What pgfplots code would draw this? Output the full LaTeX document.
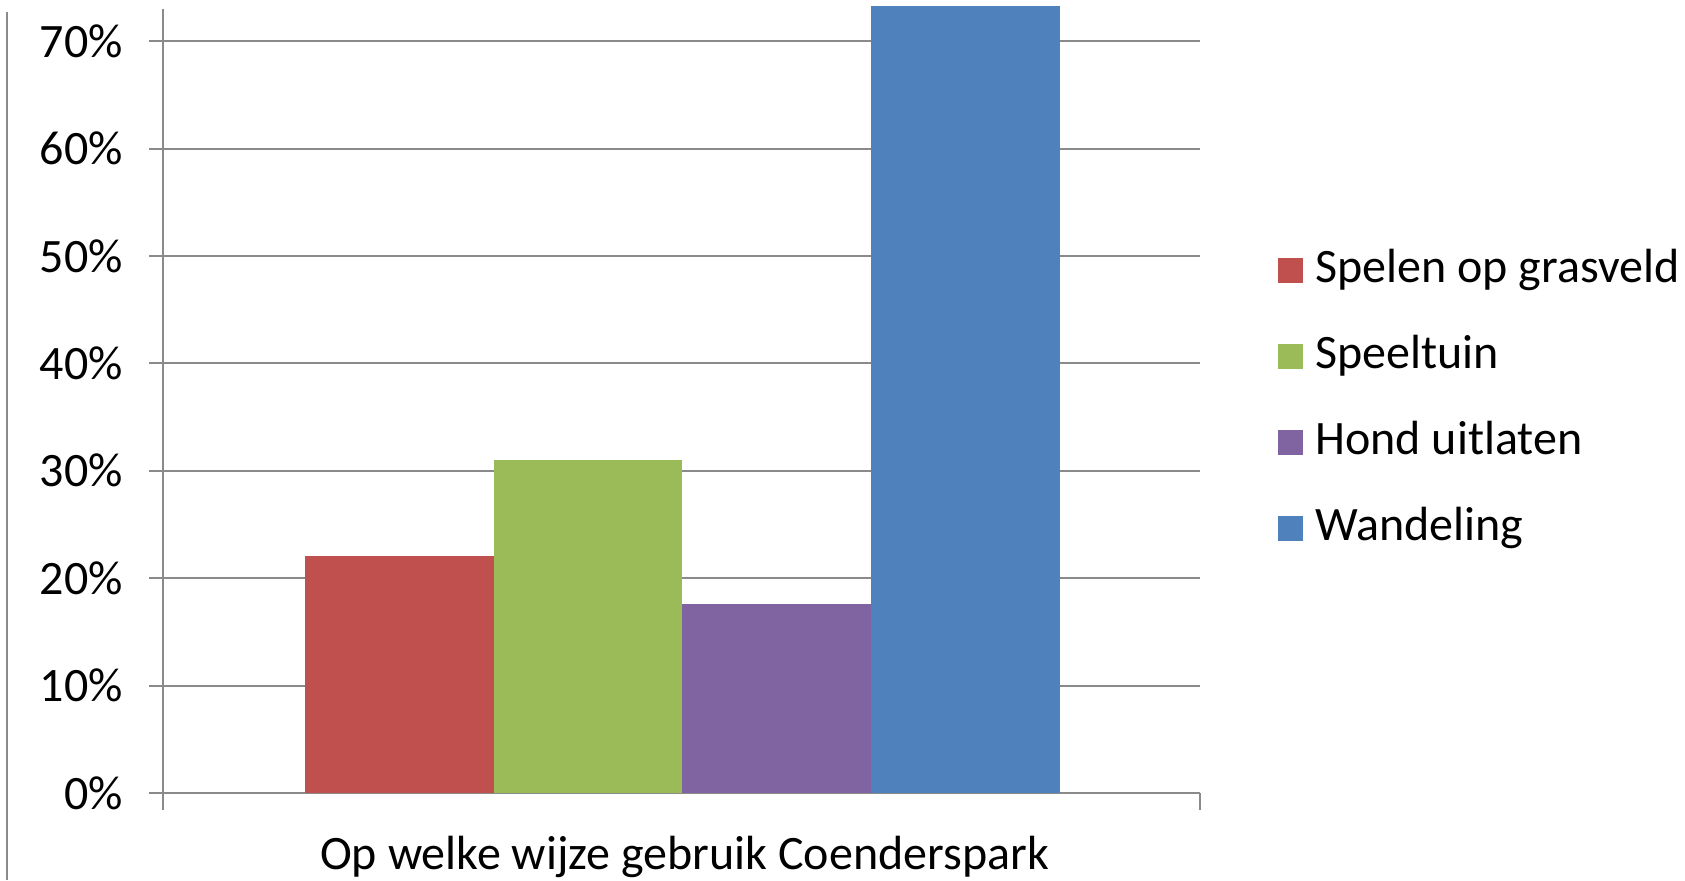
\documentclass[border=0pt]{standalone}
\usepackage{pgfplots}
\pgfplotsset{compat=1.18}
\usepackage{fontspec}
\setmainfont{Carlito}
\definecolor{cRed}{HTML}{C0504D}
\definecolor{cGreen}{HTML}{9BBB59}
\definecolor{cPurple}{HTML}{8064A2}
\definecolor{cBlue}{HTML}{4F81BD}
\definecolor{cGrid}{HTML}{8A8A8A}
\begin{document}
\begin{tikzpicture}
\useasboundingbox (0,0) rectangle (842.5pt,440pt);
\draw[cGrid, line width=1pt] (3.5pt,0pt) -- (3.5pt,434pt);
\begin{axis}[
  at={(81.5pt,43.5pt)}, anchor=south west,
  scale only axis, width=518.5pt, height=392pt,
  xmin=-2.75, xmax=2.74, ymin=0, ymax=73,
  axis x line*=bottom, axis y line*=left,
  axis line style={cGrid, line width=1pt, -},
  ytick={0,10,...,70},
  yticklabel={\pgfmathprintnumber{\tick}\%},
  /pgf/number format/assume math mode=true,
  ymajorgrids, grid style={cGrid, line width=1pt},
  tick align=outside, major tick length=7pt,
  tick style={cGrid, line width=1pt},
  xtick=\empty,
  extra x ticks={-2.75,2.74}, extra x tick labels={},
  extra x tick style={major tick length=8.5pt, grid=none},
  yticklabel style={font=\fontsize{24}{29}\selectfont, anchor=east, inner sep=0pt, xshift=-12.9pt},
  xlabel={Op welke wijze gebruik Coenderspark},
  xlabel style={font=\fontsize{24}{29}\selectfont, at={(axis description cs:0.5,0)}, anchor=base, inner sep=0pt, yshift=-38pt, xshift=1.5pt},
  clip=false,
  legend style={draw=none, fill=none, at={(1,0.5016)}, anchor=west, xshift=39pt,
    font=\fontsize{24}{29}\selectfont, inner sep=0pt, row sep=21pt,
    nodes={inner sep=0pt, text height=17pt, text depth=5pt}},
  legend cell align=left,
  legend image code/.code={\fill[#1] (0pt,-6.25pt) rectangle (12.5pt,6.25pt); \path (18.5pt,0pt);},
]
\addplot[ybar, bar width=1, bar shift=0pt, fill=cRed, draw=none] coordinates {(-1.5,22.1)};
\addplot[ybar, bar width=1, bar shift=0pt, fill=cGreen, draw=none] coordinates {(-0.5,31.0)};
\addplot[ybar, bar width=1, bar shift=0pt, fill=cPurple, draw=none] coordinates {(0.5,17.6)};
\addplot[ybar, bar width=1, bar shift=0pt, fill=cBlue, draw=none] coordinates {(1.5,73.3)};
\legend{Spelen op grasveld, Speeltuin, Hond uitlaten, Wandeling}
\end{axis}
\end{tikzpicture}
\end{document}
